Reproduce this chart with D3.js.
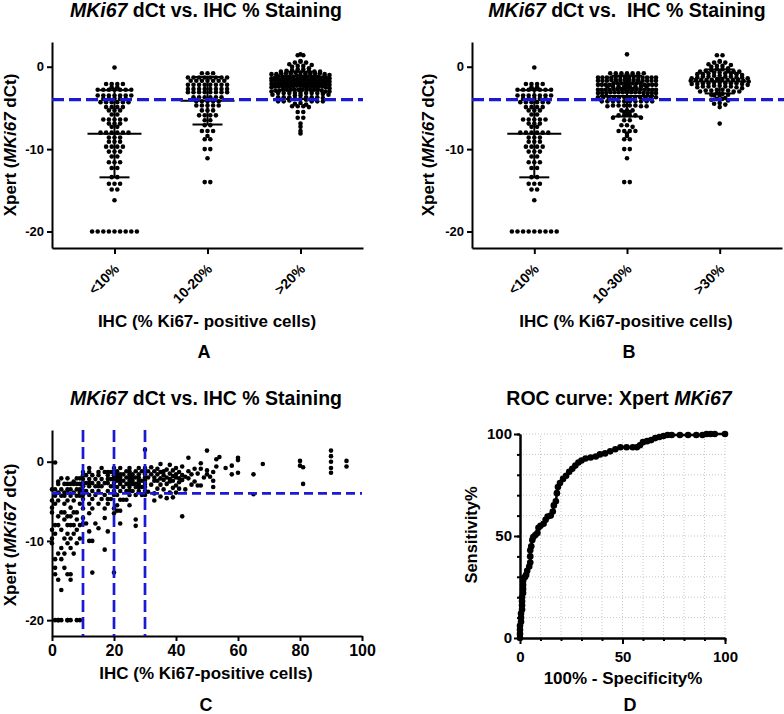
<!DOCTYPE html>
<html>
<head>
<meta charset="utf-8">
<script src="https://cdn.jsdelivr.net/npm/d3@7"></script>
<style>
  body { margin: 0; background: #fff; }
</style>
</head>
<body>
<svg width="784" height="714"></svg>
<script>
// ---- data: [IHC % Ki67-positive, Xpert MKi67 dCt] ----
const lowGroup = [ // IHC < 10%
  [1,-0.1],
  [5,-2.1],[8,-2.1],[9,-2.1],[3,-2.1],
  [2,-2.5],[7,-2.5],
  [4,-2.8],[6,-2.8],[8,-2.8],[9,-2.8],[5,-2.8],[2,-2.8],[7,-2.8],
  [0,-3.5],[1,-3.5],[3,-3.5],[5,-3.5],[6,-3.5],[8,-3.5],[9,-3.5],
  [2,-3.9],[4,-3.9],[5,-3.9],[7,-3.9],[9,-3.9],
  [1,-4.3],[3,-4.3],[4,-4.3],[6,-4.3],[8,-4.3],[9,-4.3],
  [0,-4.9],[2,-4.9],[5,-4.9],[7,-4.9],
  [1,-5.3],[4,-5.3],[9,-5.3],
  [0,-5.8],[6,-5.8],
  [0,-6.4],[3,-6.4],[4,-6.4],[7,-6.4],[8,-6.4],
  [2,-6.9],[5,-6.9],[6,-6.9],
  [4,-7.3],[8,-7.3],
  [1,-8.0],[2,-8.0],[5,-8.0],[6,-8.0],[7,-8.0],[9,-8.0],
  [0,-8.6],[3,-8.6],[8,-8.6],
  [1,-9.1],[5,-9.1],[7,-9.1],
  [0,-9.7],[4,-9.7],[6,-9.7],[9,-9.7],
  [0,-10.3],[5,-10.3],[8,-10.3],
  [3,-10.9],[6,-10.9],
  [2,-11.6],[4,-11.6],[7,-11.6],
  [1,-12.3],[3,-12.3],
  [1,-13.4],[4,-13.4],
  [1,-14.2],[5,-14.2],[6,-14.2],
  [2,-14.9],[6,-14.9],
  [3,-16.2],
  [1,-20],[2,-20],[2,-20],[3,-20],[5,-20],[5,-20],[6,-20],[8,-20],[9,-20]
];
const midGroup = [ // 10-20%
  [16,-0.8],[20,-0.8],[12,-0.8],
  [10,-1.3],[12,-1.3],[15,-1.3],[18,-1.3],[19,-1.3],[20,-1.3],[20,-1.3],[17,-1.3],
  [10,-1.7],[13,-1.7],[15,-1.7],[18,-1.7],[20,-1.7],[20,-1.7],[11,-1.7],
  [10,-2.2],[12,-2.2],[14,-2.2],[16,-2.2],[18,-2.2],[20,-2.2],[19,-2.2],[20,-2.2],
  [10,-2.7],[11,-2.7],[13,-2.7],[15,-2.7],[17,-2.7],[20,-2.7],[18,-2.7],[12,-2.7],
  [10,-3.1],[12,-3.1],[14,-3.1],[15,-3.1],[16,-3.1],[19,-3.1],[20,-3.1],[10,-3.1],
  [10,-3.7],[11,-3.7],[13,-3.7],[15,-3.7],[18,-3.7],[20,-3.7],
  [10,-4.2],[12,-4.2],[14,-4.2],[17,-4.2],[20,-4.2],
  [10,-4.7],[13,-4.7],[18,-4.7],[19,-4.7],[16,-4.7],
  [12,-5.3],[15,-5.3],[18,-5.3],
  [10,-5.9],[13,-5.9],[17,-5.9],[20,-5.9],
  [12,-6.5],[20,-6.5],
  [10,-7.1],[17,-7.1],
  [10,-7.8],[14,-7.8],[11,-7.8],
  [15,-8.4],
  [18,-8.8],[12,-8.8],
  [12,-10],[13,-10],
  [17,-11.1],
  [13,-14],[20,-14]
];
const upperMidGroup = [ // 20-30%
  [30,1.5],
  [25,-0.8],[30,-0.8],[28,-0.8],[22,-0.8],
  [21,-1.2],[24,-1.2],[25,-1.2],[27,-1.2],[30,-1.2],[29,-1.2],
  [21,-1.6],[22,-1.6],[25,-1.6],[26,-1.6],[28,-1.6],[30,-1.6],[23,-1.6],
  [21,-2.0],[22,-2.0],[24,-2.0],[25,-2.0],[27,-2.0],[28,-2.0],[30,-2.0],[26,-2.0],
  [21,-2.4],[23,-2.4],[25,-2.4],[26,-2.4],[28,-2.4],[29,-2.4],[30,-2.4],[22,-2.4],
  [22,-2.8],[24,-2.8],[25,-2.8],[26,-2.8],[27,-2.8],[28,-2.8],[30,-2.8],[25,-2.8],
  [21,-3.2],[23,-3.2],[25,-3.2],[27,-3.2],[28,-3.2],[30,-3.2],[29,-3.2],
  [22,-3.7],[24,-3.7],[25,-3.7],[28,-3.7],[30,-3.7],[26,-3.7],
  [21,-4.2],[25,-4.2],[27,-4.2],[29,-4.2],[30,-4.2],
  [22,-4.8],[24,-4.8],[23,-4.8],
  [21,-5.5],[25,-5.5],
  [21,-6.2],[22,-6.2],
  [27,-7.3],[22,-7.8],[27,-8.1]
];
const highGroup = [ // > 30%
  [50,1.4],[90,1.4],
  [54,0.6],[90,0.7],[44,0.5],
  [60,0.5],[60,0.2],[80,0.1],[90,0.0],[95,0.1],[53,0.3],
  [68,-0.3],[48,-0.2],[80,-0.5],[42,-0.6],[58,-0.5],[35,-0.3],[38,-0.4],
  [90,-0.8],[81,-0.7],[95,-0.6],[56,-0.8],[46,-0.9],[53,-0.6],[34,-0.9],[37,-1.0],[40,-0.8],[32,-0.7],
  [90,-1.4],[60,-1.4],[48,-0.9],[50,-1.1],[33,-1.2],[35,-1.3],[36,-1.2],[39,-1.1],[41,-1.3],[44,-1.2],[31,-1.2],[52,-1.3],
  [65,-1.6],[58,-1.6],[50,-1.6],[34,-1.6],[36,-1.7],[38,-1.5],[40,-1.6],[42,-1.7],[45,-1.6],[47,-1.5],[32,-1.6],[39,-1.8],
  [44,-2.1],[49,-2.0],[51,-1.9],[33,-2.0],[35,-2.1],[37,-2.0],[38,-2.2],[40,-2.0],[41,-2.1],[43,-1.9],[31,-2.0],
  [52,-2.4],[46,-2.5],[34,-2.4],[36,-2.3],[38,-2.5],[39,-2.4],[41,-2.6],[33,-2.4],[42,-2.3],
  [81,-2.8],[45,-2.9],[48,-3.0],[47,-3.0],[35,-2.9],[37,-2.8],[40,-3.0],[32,-2.9],
  [52,-3.2],[34,-3.4],[36,-3.5],[39,-3.3],[41,-3.4],[43,-3.5],
  [38,-3.9],[40,-3.9],[33,-4.0],[31,-3.8],
  [65,-4.1],[35,-4.4],[39,-4.5],
  [37,-4.6],[33,-4.9],
  [42,-6.9]
];
const cutoff = -4;
const catsA = ["<10%", "10-20%", ">20%"];
const catsB = ["<10%", "10-30%", ">30%"];
const dctTicks = [0, -10, -20];
const ihcTicks = [0, 20, 40, 60, 80, 100];
const ihcCutoffs = [10, 20, 30];

// ROC curve points (100% - specificity, sensitivity)
const rocFpr = [0,0,0,0,0.5,0.5,0.5,1,1,1,1,1.5,1.5,1.5,1.5,2,2.5,3,3.5,4.5,5,5,5,5.5,6,6.5,7.5,8.5,9,10,
  11.5,12.5,13.5,15,16,16.5,17.5,18,18.5,19.5,21,22.5,24,25.5,27,28.5,30,32,34.5,37,39,41.5,44,46.5,49,
  52,55,57,58.5,60,62,64,66,68,70,72,74,78,82,86,89,91,93,95,100];
const rocTpr = [0,2,4,6,8,10,12,14,16,18,20,22,24,26,28,29.5,30,31,33,35,37,40,43,45,48,49.5,50.5,51.5,54,55,
  56,58,59.5,60,62,65,67,71,74,76,78,79.5,81.5,83,84.5,86,87,88,88.5,89,90,90.5,91.5,92.5,93.5,
  93.5,93.5,93.5,94.5,96,96.5,97,98,98.5,99,99.5,99.5,99.5,99.5,99.5,99.5,100,100,100,100];
const rocTicks = [0, 50, 100];

// ---- drawing ----
const FONT = '"Liberation Sans", Arial, Helvetica, sans-serif';
const svg = d3.select("svg");
const blue = "#1a1ad2";
const allPoints = lowGroup.concat(midGroup, upperMidGroup, highGroup);

function label(x, y, parts, size, vertical) {
  const t = svg.append("text")
    .attr("transform", `translate(${x},${y})` + (vertical ? " rotate(-90)" : ""))
    .attr("text-anchor", "middle")
    .attr("font-family", FONT)
    .attr("font-weight", "bold")
    .attr("font-size", size)
    .style("white-space", "pre");
  parts.forEach((p) => {
    t.append("tspan").text(p[0]).attr("font-style", p[1] ? "italic" : null);
  });
}

function styleAxis(g, size) {
  g.attr("font-family", FONT).attr("font-size", size).attr("font-weight", "bold");
  g.select(".domain").attr("stroke-width", 2);
  g.selectAll(".tick line").attr("stroke-width", 2);
}

// GraphPad-like column scatter: rows of dots spread sideways, squeezed when crowded
function swarm(values, y, cx) {
  const gap = 5.6, maxW = 58;
  const out = [];
  d3.groups(values, (v) => Math.round(v / 0.4)).forEach(([, vs]) => {
    vs.sort((a, b) => b - a);
    const n = vs.length;
    const step = n > 1 ? Math.min(gap, maxW / (n - 1)) : 0;
    const slots = d3.range(n)
      .map((i) => (i - (n - 1) / 2) * step)
      .sort((a, b) => Math.abs(a) - Math.abs(b));
    vs.forEach((v, i) => out.push({ x: cx + slots[i], y: y(v) }));
  });
  return out;
}

function columnPanel(opt) {
  const y = d3.scaleLinear().domain([-22, 3]).range([248, 42]);
  const x = d3.scalePoint().domain(opt.cats).range([opt.left, opt.right]).padding(0.672);
  const g = svg.append("g");

  opt.groups.forEach((vals, i) => {
    const cx = x(opt.cats[i]);
    g.append("g")
      .selectAll("circle")
      .data(swarm(vals, y, cx))
      .enter()
      .append("circle")
      .attr("cx", (d) => d.x)
      .attr("cy", (d) => d.y)
      .attr("r", 2.3)
      .attr("fill", "#000");

    const m = d3.mean(vals), s = d3.deviation(vals);
    const bars = [
      [cx, y(m + s), cx, y(m - s)],
      [cx - 27, y(m), cx + 27, y(m)],
      [cx - 15, y(m + s), cx + 15, y(m + s)],
      [cx - 15, y(m - s), cx + 15, y(m - s)]
    ];
    g.selectAll(null)
      .data(bars)
      .enter()
      .append("line")
      .attr("x1", (d) => d[0]).attr("y1", (d) => d[1])
      .attr("x2", (d) => d[2]).attr("y2", (d) => d[3])
      .attr("stroke", "#000")
      .attr("stroke-width", 2);
  });

  const ya = g.append("g")
    .attr("transform", `translate(${opt.left},0)`)
    .call(d3.axisLeft(y).tickValues(dctTicks).tickSize(5).tickSizeOuter(0).tickFormat((d) => String(d)));
  styleAxis(ya, 13);

  const xa = g.append("g")
    .attr("transform", "translate(0,248)")
    .call(d3.axisBottom(x).tickSize(6).tickSizeOuter(0));
  styleAxis(xa, 14);
  xa.selectAll(".tick text")
    .attr("text-anchor", "end")
    .attr("x", 0).attr("y", 0).attr("dy", 0)
    .attr("transform", "translate(5,22) rotate(-45)");

  g.append("line")
    .attr("x1", opt.left).attr("x2", opt.dashEnd)
    .attr("y1", y(cutoff)).attr("y2", y(cutoff))
    .attr("stroke", blue)
    .attr("stroke-width", 3.2)
    .attr("stroke-dasharray", "12,5");
}

// Panel A
columnPanel({
  left: 52, right: 363, dashEnd: 363, cats: catsA,
  groups: [
    allPoints.filter((p) => p[0] < 10).map((p) => p[1]),
    allPoints.filter((p) => p[0] >= 10 && p[0] <= 20).map((p) => p[1]),
    allPoints.filter((p) => p[0] > 20).map((p) => p[1])
  ]
});
label(206, 17, [["MKi67", true], [" dCt vs. IHC % Staining"]], 19.5);
label(15.5, 145, [["Xpert ("], ["MKi67", true], [" dCt)"]], 17, true);
label(207, 327, [["IHC (% Ki67- positive cells)"]], 17);
label(204, 358, [["A"]], 18);

// Panel B
columnPanel({
  left: 472, right: 782, dashEnd: 784, cats: catsB,
  groups: [
    allPoints.filter((p) => p[0] < 10).map((p) => p[1]),
    allPoints.filter((p) => p[0] >= 10 && p[0] <= 30).map((p) => p[1]),
    allPoints.filter((p) => p[0] > 30).map((p) => p[1])
  ]
});
label(627, 17, [["MKi67", true], [" dCt vs.  IHC % Staining"]], 19.5);
label(434, 145, [["Xpert ("], ["MKi67", true], [" dCt)"]], 17, true);
label(626, 327, [["IHC (% Ki67-positive cells)"]], 17);
label(629, 358, [["B"]], 18);

// Panel C: scatter
(function () {
  const x = d3.scaleLinear().domain([0, 100]).range([52, 362]);
  const y = d3.scaleLinear().domain([-22, 4]).range([636, 430]);
  const g = svg.append("g");

  g.append("g")
    .selectAll("circle")
    .data(allPoints)
    .enter()
    .append("circle")
    .attr("cx", (d) => x(d[0]))
    .attr("cy", (d) => y(d[1]))
    .attr("r", 2.3)
    .attr("fill", "#000");

  const ya = g.append("g")
    .attr("transform", "translate(52,0)")
    .call(d3.axisLeft(y).tickValues(dctTicks).tickSize(5).tickSizeOuter(0).tickFormat((d) => String(d)));
  styleAxis(ya, 13);
  const xa = g.append("g")
    .attr("transform", "translate(0,636)")
    .call(d3.axisBottom(x).tickValues(ihcTicks).tickSize(5).tickSizeOuter(0));
  styleAxis(xa, 16);
  xa.selectAll(".tick text").attr("y", 9);

  g.selectAll(null)
    .data(ihcCutoffs)
    .enter()
    .append("line")
    .attr("x1", (d) => x(d)).attr("x2", (d) => x(d))
    .attr("y1", y(4)).attr("y2", y(-22))
    .attr("stroke", blue)
    .attr("stroke-width", 2.7)
    .attr("stroke-dasharray", "12,5");
  g.append("line")
    .attr("x1", x(0)).attr("x2", x(100))
    .attr("y1", y(cutoff)).attr("y2", y(cutoff))
    .attr("stroke", blue)
    .attr("stroke-width", 2.7)
    .attr("stroke-dasharray", "9,5");
})();
label(206, 404.5, [["MKi67", true], [" dCt vs. IHC % Staining"]], 19.5);
label(15.5, 535, [["Xpert ("], ["MKi67", true], [" dCt)"]], 17, true);
label(206, 678.5, [["IHC (% Ki67-positive cells)"]], 17);
label(206, 711, [["C"]], 18);

// Panel D: ROC curve
(function () {
  const x = d3.scaleLinear().domain([0, 100]).range([520, 725]);
  const y = d3.scaleLinear().domain([0, 100]).range([638, 434]);
  const g = svg.append("g");
  const grid = x.ticks(10).filter((d) => d > 0);

  g.selectAll(null).data(grid).enter().append("line")
    .attr("x1", (d) => x(d)).attr("x2", (d) => x(d))
    .attr("y1", y(0)).attr("y2", y(100))
    .attr("stroke", "#c8c8c8").attr("stroke-dasharray", "1,2");
  g.selectAll(null).data(grid).enter().append("line")
    .attr("y1", (d) => y(d)).attr("y2", (d) => y(d))
    .attr("x1", x(0)).attr("x2", x(100))
    .attr("stroke", "#c8c8c8").attr("stroke-dasharray", "1,2");

  const pts = rocFpr.map((f, i) => [f, rocTpr[i]]);
  g.append("path")
    .datum(pts)
    .attr("fill", "none")
    .attr("stroke", "#000")
    .attr("stroke-width", 2.5)
    .attr("d", d3.line().x((d) => x(d[0])).y((d) => y(d[1])));
  g.append("g")
    .selectAll("circle")
    .data(pts)
    .enter()
    .append("circle")
    .attr("cx", (d) => x(d[0]))
    .attr("cy", (d) => y(d[1]))
    .attr("r", 3.3)
    .attr("fill", "#000");

  const yMinor = g.append("g").attr("transform", "translate(520,0)")
    .call(d3.axisLeft(y).tickValues(y.ticks(10)).tickSize(3).tickSizeOuter(0).tickFormat(""));
  styleAxis(yMinor, 15);
  const xMinor = g.append("g").attr("transform", "translate(0,638)")
    .call(d3.axisBottom(x).tickValues(x.ticks(10)).tickSize(3).tickSizeOuter(0).tickFormat(""));
  styleAxis(xMinor, 15);
  const ya = g.append("g").attr("transform", "translate(520,0)")
    .call(d3.axisLeft(y).tickValues(rocTicks).tickSize(6).tickPadding(2).tickSizeOuter(0));
  styleAxis(ya, 15);
  const xa = g.append("g").attr("transform", "translate(0,638)")
    .call(d3.axisBottom(x).tickValues(rocTicks).tickSize(6).tickSizeOuter(0));
  styleAxis(xa, 15);
  xa.selectAll(".tick text").attr("y", 13);
})();
label(619, 404.5, [["ROC curve: Xpert "], ["MKi67", true]], 19.5);
label(477, 535, [["Sensitivity%"]], 16.5, true);
label(623, 684, [["100% - Specificity%"]], 17);
label(630, 711, [["D"]], 18);
</script>
</body>
</html>
